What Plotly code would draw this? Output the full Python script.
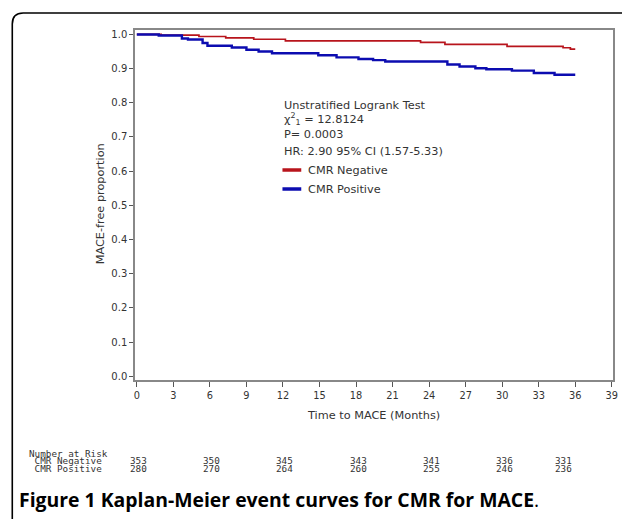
import plotly.graph_objects as go

# ---------------- data ----------------
neg_t = [0, 2.0, 5.1, 7.3, 9.6, 12.2, 23.3, 25.3, 30.4, 35.0, 35.6, 36.0]
neg_s = [1.0, 0.998, 0.994, 0.990, 0.986, 0.981, 0.977, 0.971, 0.965, 0.961, 0.957, 0.957]

pos_t = [0, 1.8, 3.7, 4.2, 5.4, 5.8, 7.8, 9.0, 10.0, 11.1, 14.9, 16.4, 18.2, 19.4, 20.4,
         25.5, 26.5, 27.8, 28.7, 30.8, 32.6, 34.3, 36.0]
pos_s = [1.0, 0.997, 0.988, 0.985, 0.975, 0.967, 0.962, 0.955, 0.950, 0.945, 0.939, 0.933,
         0.928, 0.925, 0.921, 0.912, 0.906, 0.901, 0.898, 0.894, 0.887, 0.882, 0.882]

x_ticks = [0, 3, 6, 9, 12, 15, 18, 21, 24, 27, 30, 33, 36, 39]
y_ticks = [0.0, 0.1, 0.2, 0.3, 0.4, 0.5, 0.6, 0.7, 0.8, 0.9, 1.0]

risk_times = [0, 6, 12, 18, 24, 30, 36]
risk_neg = [353, 350, 345, 343, 341, 336, 331]
risk_pos = [280, 270, 264, 260, 255, 246, 236]

stats_lines = ["Unstratified Logrank Test",
               "χ<sup>2</sup><sub>1</sub> = 12.8124",
               "P= 0.0003",
               "HR: 2.90 95% CI (1.57-5.33)"]
series_names = ["CMR Negative", "CMR Positive"]
series_colors = ["#b8141c", "#0c0cb0"]

# ---------------- geometry helpers ----------------
W_FIG, H_FIG = 622, 519
L, R, T, B = 135, 618, 30, 380
PW, PH = R - L, B - T


def px(x):
    return (x - L) / PW


def py(y):
    return (B - y) / PH


FONT = "DejaVu Sans"
TXT = "#333333"
LBL = 11.3

fig = go.Figure()
fig.add_trace(go.Scatter(x=neg_t, y=neg_s, mode="lines", line_shape="hv",
                         line=dict(color=series_colors[0], width=1.7),
                         name=series_names[0], showlegend=False))
fig.add_trace(go.Scatter(x=pos_t, y=pos_s, mode="lines", line_shape="hv",
                         line=dict(color=series_colors[1], width=2.4),
                         name=series_names[1], showlegend=False))

annotations = []
shapes = []

# stats block
stat_y = [105, 119, 134, 151]
for txt, yy in zip(stats_lines, stat_y):
    annotations.append(dict(x=px(284), y=py(yy), xref="paper", yref="paper",
                            text=txt, showarrow=False, xanchor="left", yanchor="middle",
                            font=dict(family=FONT, size=LBL, color=TXT)))

# legend
for name, col, yy in zip(series_names, series_colors, [170, 189]):
    shapes.append(dict(type="line", xref="paper", yref="paper",
                       x0=px(284), x1=px(303), y0=py(yy), y1=py(yy),
                       line=dict(color=col, width=3.5)))
    annotations.append(dict(x=px(308), y=py(yy), xref="paper", yref="paper",
                            text=name, showarrow=False, xanchor="left", yanchor="middle",
                            font=dict(family=FONT, size=LBL, color=TXT)))

# axis titles
annotations.append(dict(x=px(100), y=py(204), xref="paper", yref="paper",
                        text="MACE-free proportion", textangle=-90, showarrow=False,
                        xanchor="center", yanchor="middle",
                        font=dict(family=FONT, size=LBL, color=TXT)))
annotations.append(dict(x=px(376), y=py(415), xref="paper", yref="paper",
                        text="Time to MACE (Months)", showarrow=False,
                        xanchor="center", yanchor="middle",
                        font=dict(family=FONT, size=LBL, color=TXT)))

# number at risk table
TFONT = dict(family="DejaVu Sans Mono", size=9.3, color=TXT)
annotations.append(dict(x=px(26), y=py(453.5), xref="paper", yref="paper",
                        text="Number at Risk", showarrow=False, xanchor="left",
                        yanchor="middle", font=TFONT))
annotations.append(dict(x=px(26), y=py(461), xref="paper", yref="paper",
                        text=" CMR Negative", showarrow=False, xanchor="left",
                        yanchor="middle", font=TFONT))
annotations.append(dict(x=px(26), y=py(468.5), xref="paper", yref="paper",
                        text=" CMR Positive", showarrow=False, xanchor="left",
                        yanchor="middle", font=TFONT))
for i, (t, n1, n2) in enumerate(zip(risk_times, risk_neg, risk_pos)):
    shift = -12 if i == len(risk_times) - 1 else 2
    annotations.append(dict(x=t, y=py(461), xref="x", yref="paper", text=str(n1),
                            showarrow=False, xanchor="center", yanchor="middle",
                            xshift=shift, font=TFONT))
    annotations.append(dict(x=t, y=py(468.5), xref="x", yref="paper", text=str(n2),
                            showarrow=False, xanchor="center", yanchor="middle",
                            xshift=shift, font=TFONT))

# caption
annotations.append(dict(x=px(16), y=py(499), xref="paper", yref="paper",
                        text="<b>Figure 1</b> <b>Kaplan-Meier event curves for CMR for MACE</b>.",
                        showarrow=False, xanchor="left", yanchor="middle",
                        font=dict(family="Open Sans", size=19.4, color="#000000")))

# outer rounded frame
path = (f"M {px(11)},{py(540)} L {px(11)},{py(24)} "
        f"Q {px(11)},{py(13)} {px(22)},{py(13)} L {px(640)},{py(13)}")
shapes.append(dict(type="path", xref="paper", yref="paper", path=path,
                   line=dict(color="#000000", width=1.6)))

fig.update_layout(
    width=W_FIG, height=H_FIG,
    margin=dict(l=L, r=W_FIG - R, t=T, b=H_FIG - B, pad=0),
    paper_bgcolor="white", plot_bgcolor="white",
    showlegend=False,
    annotations=annotations, shapes=shapes,
    xaxis=dict(range=[-0.15, 39.1], tickmode="array", tickvals=x_ticks,
               ticks="outside", ticklen=5, tickcolor="#555", tickwidth=1,
               showline=True, linecolor="#888888", linewidth=1.5, mirror=True,
               showgrid=False, zeroline=False,
               tickfont=dict(family=FONT, size=9.8, color=TXT)),
    yaxis=dict(range=[-0.011, 1.013], tickmode="array", tickvals=y_ticks,
               tickformat=".1f",
               ticks="outside", ticklen=4, tickcolor="#555", tickwidth=1,
               showline=True, linecolor="#888888", linewidth=1.5, mirror=True,
               showgrid=False, zeroline=False,
               tickfont=dict(family=FONT, size=10, color=TXT)),
)

fig.write_html("out.html", config={"displayModeBar": False},
               post_script="document.body.style.margin='0';document.body.style.overflow='hidden';")
